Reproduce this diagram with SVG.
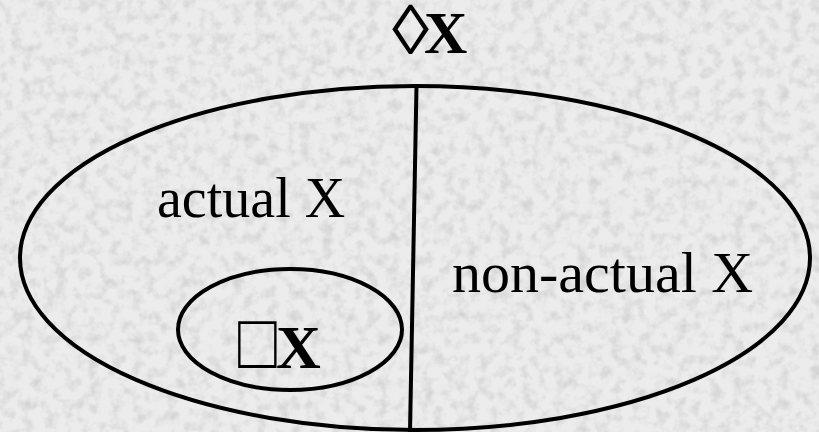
<svg xmlns="http://www.w3.org/2000/svg" width="819" height="432" viewBox="0 0 819 432">
  <defs>
    <filter id="granite" x="0" y="0" width="100%" height="100%">
      <feTurbulence type="fractalNoise" baseFrequency="0.09" numOctaves="3" seed="7" result="n"/>
      <feColorMatrix in="n" type="matrix" values="0 0 0 0 0.55  0 0 0 0 0.55  0 0 0 0 0.55  0 0 0 -2.2 1.25" result="spots"/>
      <feComposite in="spots" in2="SourceGraphic" operator="in"/>
    </filter>
    <style>
      .shape { fill: none; stroke: #000; stroke-width: 4; }
      .lbl { font-family: "Liberation Serif", "Times New Roman", serif; fill: #000; }
      .b { font-weight: bold; }
    </style>
  </defs>
  <rect width="819" height="432" fill="#ececec"/>
  <rect width="819" height="432" fill="#ffffff" filter="url(#granite)" opacity="0.6"/>

  <g id="possible-x">
    <ellipse class="shape" cx="415" cy="258" rx="395" ry="172"/>
    <text class="lbl" transform="translate(392,54) scale(1.25,1.17)" font-size="60">◊</text>
    <text class="lbl b" x="424" y="53" font-size="60">X</text>
  </g>

  <g id="actual-x">
    <text class="lbl" x="157" y="217" font-size="56">actual X</text>
  </g>

  <g id="non-actual-x">
    <text class="lbl" x="452" y="292" font-size="58">non-actual X</text>
  </g>

  <g id="necessary-x">
    <ellipse class="shape" cx="290" cy="329.5" rx="112" ry="60.5"/>
    <text class="lbl" transform="translate(238,368) scale(1.07,1.3)" font-size="60">□</text>
    <text class="lbl b" x="276" y="368" font-size="62">X</text>
  </g>

  <g id="connectors">
    <line class="shape" x1="416.5" y1="86" x2="410" y2="432"/>
  </g>
</svg>
